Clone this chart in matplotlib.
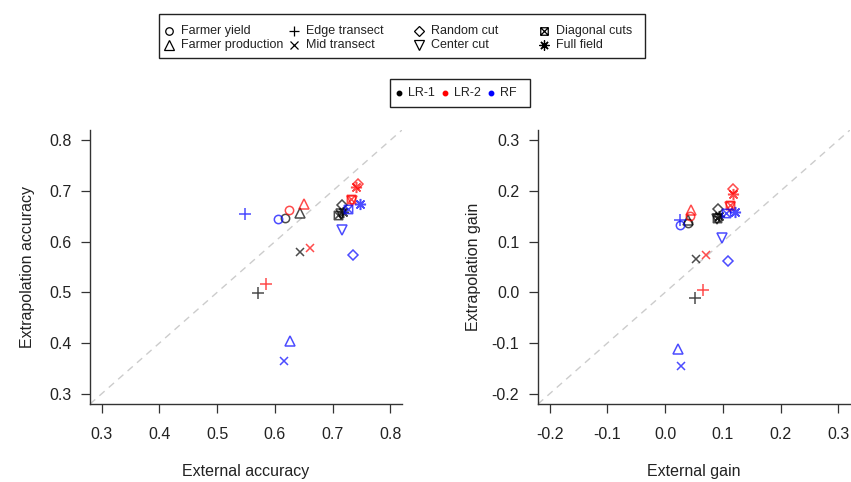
"""Extrapolation vs. external performance for three models and eight sampling designs."""

import matplotlib

matplotlib.use("Agg")
import matplotlib.pyplot as plt
from matplotlib.lines import Line2D
from matplotlib.path import Path
from matplotlib.patches import Rectangle

plt.rcParams["font.family"] = ["Liberation Sans", "DejaVu Sans"]

METHODS = ["Farmer yield", "Farmer production", "Edge transect", "Mid transect",
           "Random cut", "Center cut", "Diagonal cuts", "Full field"]
MODELS = ["LR-1", "LR-2", "RF"]
COLORS = {"LR-1": "black", "LR-2": "red", "RF": "blue"}

# accuracy panel: (external, extrapolation) per method, in METHODS order
ACC_X = {
    "LR-1": [0.617, 0.643, 0.570, 0.643, 0.717, 0.715, 0.710, 0.718],
    "LR-2": [0.625, 0.650, 0.584, 0.661, 0.743, 0.733, 0.732, 0.741],
    "RF":   [0.606, 0.627, 0.548, 0.616, 0.735, 0.717, 0.727, 0.747],
}
ACC_Y = {
    "LR-1": [0.646, 0.657, 0.499, 0.580, 0.672, 0.655, 0.653, 0.658],
    "LR-2": [0.662, 0.674, 0.516, 0.588, 0.714, 0.680, 0.684, 0.707],
    "RF":   [0.644, 0.405, 0.654, 0.365, 0.574, 0.622, 0.664, 0.674],
}
# gain panel
GAIN_X = {
    "LR-1": [0.039, 0.040, 0.051, 0.054, 0.092, 0.090, 0.089, 0.094],
    "LR-2": [0.043, 0.044, 0.066, 0.070, 0.117, 0.112, 0.112, 0.117],
    "RF":   [0.026, 0.023, 0.026, 0.027, 0.108, 0.098, 0.106, 0.121],
}
GAIN_Y = {
    "LR-1": [0.137, 0.142, -0.012, 0.066, 0.165, 0.145, 0.147, 0.150],
    "LR-2": [0.150, 0.163, 0.005, 0.074, 0.203, 0.168, 0.173, 0.194],
    "RF":   [0.133, -0.111, 0.143, -0.145, 0.061, 0.107, 0.157, 0.159],
}

ACC_TICKS = [0.3, 0.4, 0.5, 0.6, 0.7, 0.8]
GAIN_TICKS = [-0.2, -0.1, 0.0, 0.1, 0.2, 0.3]

# square with a cross through it (R pch 7)
BOX_X = Path(
    [(-1, -1), (1, -1), (1, 1), (-1, 1), (-1, -1), (-1, -1), (1, 1), (-1, 1), (1, -1)],
    [Path.MOVETO, Path.LINETO, Path.LINETO, Path.LINETO, Path.CLOSEPOLY,
     Path.MOVETO, Path.LINETO, Path.MOVETO, Path.LINETO],
)
# marker, size (pt) per method
MARKERS = [("o", 6.0), ("^", 7.5), ("+", 8.5), ("x", 6.0),
           ("D", 5.2), ("v", 7.5), (BOX_X, 6.0), ((8, 2, 0), 8.0)]

W, H = 851, 482
AX_COLOR = "#333333"
TEXT_COLOR = "#222222"


def style_axes(ax, ticks, lim):
    ax.set_xlim(lim)
    ax.set_ylim(lim)
    ax.set_xticks(ticks)
    ax.set_yticks(ticks)
    ax.set_xticklabels([f"{t:.1f}" for t in ticks])
    ax.set_yticklabels([f"{t:.1f}" for t in ticks])
    for side in ("top", "right"):
        ax.spines[side].set_visible(False)
    for side in ("left", "bottom"):
        ax.spines[side].set_color(AX_COLOR)
        ax.spines[side].set_linewidth(1.0)
    ax.tick_params(direction="out", length=6.5, width=0.9, color=AX_COLOR,
                   labelsize=11.5, labelcolor=TEXT_COLOR)
    ax.tick_params(axis="x", pad=10)
    ax.tick_params(axis="y", pad=7)
    ax.axline((0, 0), (1, 1), color="#cccccc", lw=1.0, ls=(0, (5, 4)), zorder=1)


def scatter_panel(ax, xs, ys):
    for model in MODELS:
        for i, (mk, ms) in enumerate(MARKERS):
            ax.plot(xs[model][i], ys[model][i], ls="none", marker=mk, ms=ms,
                    mfc="none", mec=COLORS[model], mew=1.1, alpha=0.7, zorder=3)


fig = plt.figure(figsize=(W / 100, H / 100), dpi=100)
left = fig.add_axes([90 / W, 1 - 404 / H, 312 / W, 274 / H])
right = fig.add_axes([538 / W, 1 - 404 / H, 312 / W, 274 / H])

style_axes(left, ACC_TICKS, (0.28, 0.82))
style_axes(right, GAIN_TICKS, (-0.22, 0.32))
scatter_panel(left, ACC_X, ACC_Y)
scatter_panel(right, GAIN_X, GAIN_Y)

label_kw = dict(fontsize=11.5, color=TEXT_COLOR)
left.set_xlabel("External accuracy", labelpad=16, **label_kw)
left.set_ylabel("Extrapolation accuracy", labelpad=10, **label_kw)
right.set_xlabel("External gain", labelpad=16, **label_kw)
right.set_ylabel("Extrapolation gain", labelpad=8, **label_kw)

# legends drawn on a pixel-space overlay
over = fig.add_axes([0, 0, 1, 1])
over.set_xlim(0, W)
over.set_ylim(H, 0)
over.axis("off")

over.add_patch(Rectangle((159, 14), 486, 44, fill=False, ec=TEXT_COLOR, lw=1.0))
for i, (name, (mk, ms)) in enumerate(zip(METHODS, MARKERS)):
    col, row = divmod(i, 2)
    x0 = 169 + 125 * col
    y0 = 31 + 14 * row
    over.add_line(Line2D([x0], [y0], ls="none", marker=mk, ms=ms * 0.9,
                         mfc="none", mec="black", mew=0.9))
    over.text(x0 + 12, y0, name, fontsize=9, va="center", ha="left", color=TEXT_COLOR)

over.add_patch(Rectangle((390, 79), 140, 28, fill=False, ec=TEXT_COLOR, lw=1.0))
for i, model in enumerate(MODELS):
    x0 = 399 + 46 * i
    over.add_line(Line2D([x0], [93], ls="none", marker="o", ms=3.2,
                         mfc=COLORS[model], mec=COLORS[model]))
    over.text(x0 + 9, 93, model, fontsize=9, va="center", ha="left", color=TEXT_COLOR)

fig.savefig("out.png", dpi=100)
